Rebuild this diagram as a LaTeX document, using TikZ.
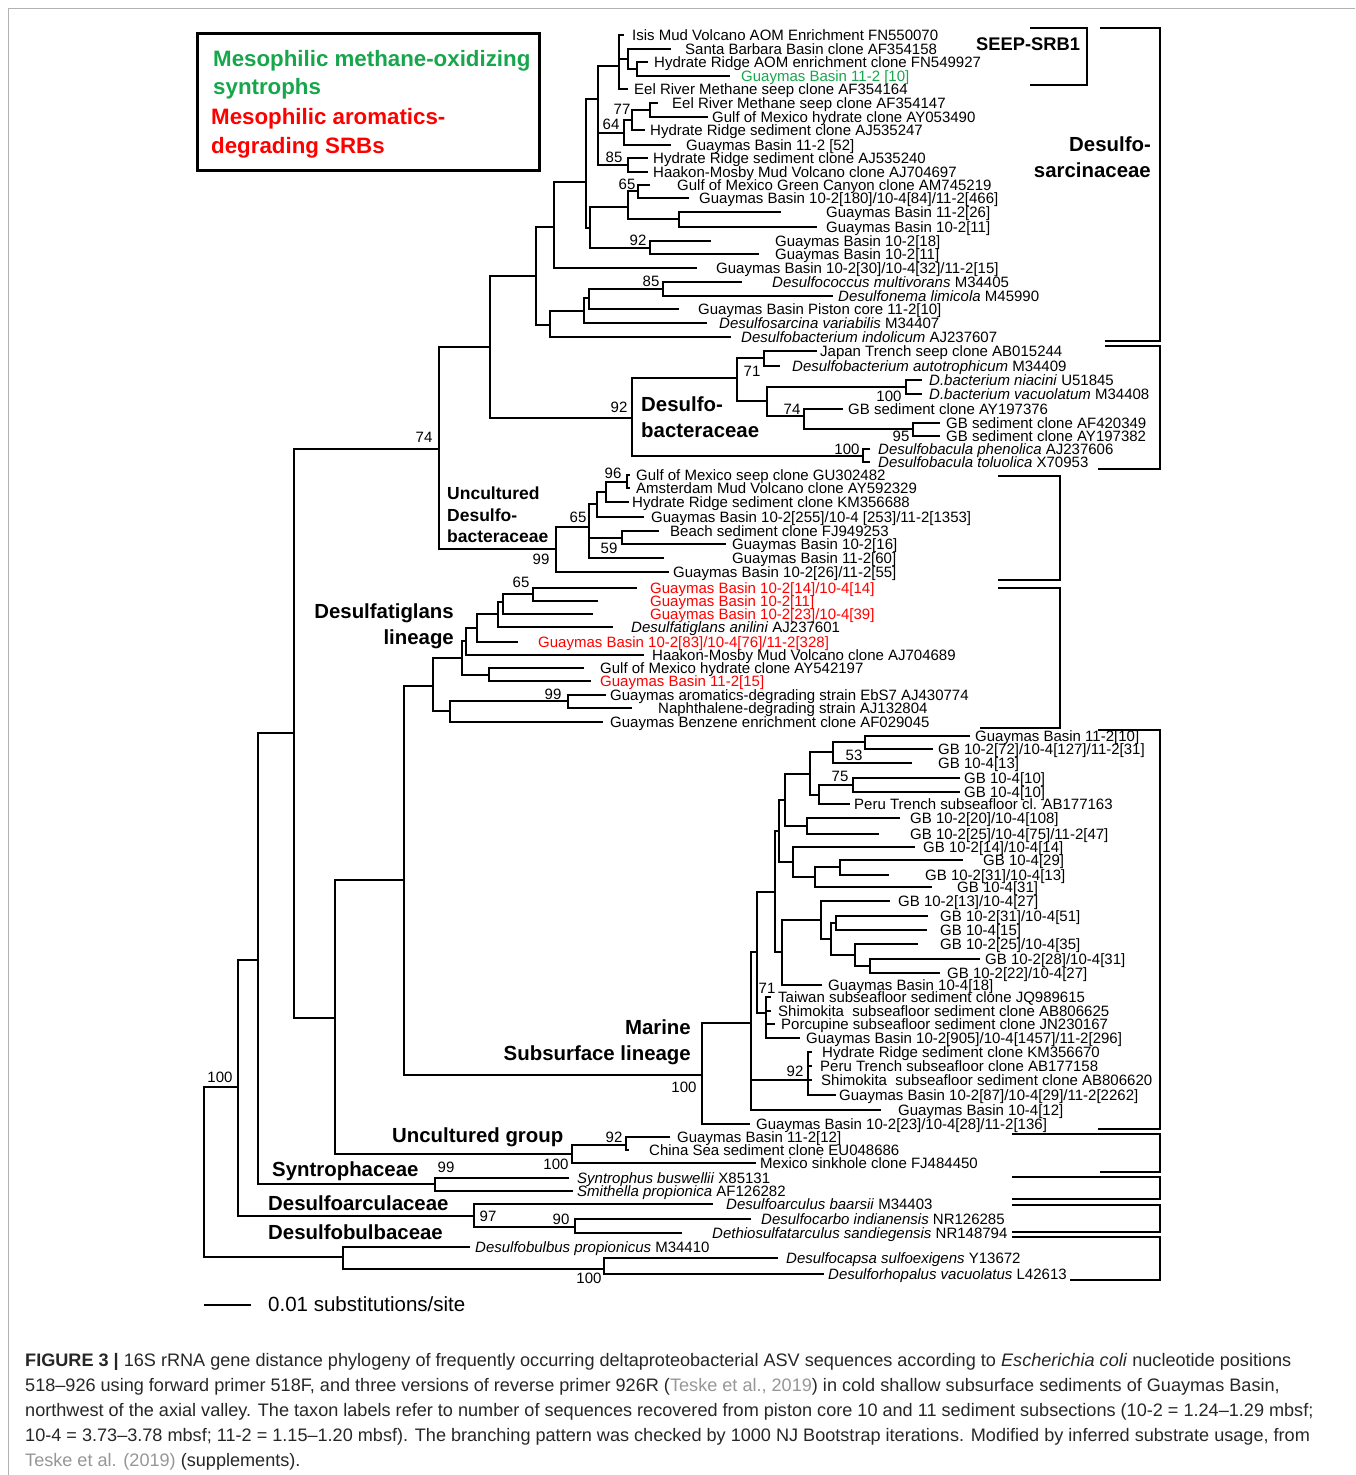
\documentclass[tikz,border=0pt]{standalone}
\usepackage{fontspec}
\setmainfont{Liberation Sans}
\definecolor{seepgreen}{RGB}{24,166,76}
\definecolor{refgray}{RGB}{150,150,150}
\newcommand\taxfont{\fontsize{15}{15}\selectfont}
% leaf: name, y, branch end, text start, label
\newcommand\leaf[5]{%
  \coordinate (#1) at (#3,#2);
  \node[taxon] (#1t) at (#4,#2) {#5};}

\begin{document}
\begin{tikzpicture}[x=1pt,y=-1pt,
  branch/.style={line width=1.6pt},
  bracket/.style={line width=1.8pt},
  taxon/.style={anchor=west,inner sep=0pt,text height=10.8pt,text depth=0pt,font=\taxfont},
  boot/.style={inner sep=0pt,font=\taxfont},
  clade/.style={inner sep=0pt,font=\bfseries\fontsize{20.4}{26}\selectfont},
  legend/.style={anchor=base west,inner sep=0pt,font=\bfseries\fontsize{22.3}{26}\selectfont},
  capline/.style={anchor=base west,inner sep=0pt,text=black!85,font=\fontsize{18.1}{20}\selectfont}]
\useasboundingbox (0,0) rectangle (1355,1475);
\draw[gray!60,line width=1pt] (8,1475) -- (8,8) -- (1355,8);

% legend
\draw[line width=3pt] (197,33) rectangle (539,170);
\node[legend,text=seepgreen] (lg1) at (213,66) {Mesophilic methane-oxidizing};
\node[legend,text=seepgreen] (lg2) at (213,94) {syntrophs};
\node[legend,text=red] (lg3) at (211,124) {Mesophilic aromatics-};
\node[legend,text=red] (lg4) at (211,153) {degrading SRBs};

% Desulfosarcinaceae
\leaf{L1}{35}{624}{632}{Isis Mud Volcano AOM Enrichment FN550070}
\leaf{L2}{49}{671}{685}{Santa Barbara Basin clone AF354158}
\leaf{L3}{62}{648}{654}{Hydrate Ridge AOM enrichment clone FN549927}
\leaf{L4}{76}{730}{741}{\color{seepgreen}Guaymas Basin 11-2 [10]}
\leaf{L5}{89}{628}{634}{Eel River Methane seep clone AF354164}
\leaf{L6}{103}{658}{672}{Eel River Methane seep clone AF354147}
\leaf{L7}{117}{708}{712}{Gulf of Mexico hydrate clone AY053490}
\leaf{L8}{130}{645}{650}{Hydrate Ridge sediment clone AJ535247}
\leaf{L9}{145}{671}{686}{Guaymas Basin 11-2 [52]}
\leaf{L10}{158}{648}{653}{Hydrate Ridge sediment clone AJ535240}
\leaf{L11}{172}{648}{653}{Haakon-Mosby Mud Volcano clone AJ704697}
\leaf{L12}{185}{650}{677}{Gulf of Mexico Green Canyon clone AM745219}
\leaf{L13}{198}{689}{699}{Guaymas Basin 10-2[180]/10-4[84]/11-2[466]}
\leaf{L14}{212}{781}{826}{Guaymas Basin 11-2[26]}
\leaf{L15}{227}{817}{826}{Guaymas Basin 10-2[11]}
\leaf{L16}{241}{711}{775}{Guaymas Basin 10-2[18]}
\leaf{L17}{254}{759}{775}{Guaymas Basin 10-2[11]}
\leaf{L18}{268}{697}{716}{Guaymas Basin 10-2[30]/10-4[32]/11-2[15]}
\leaf{L19}{282}{742}{772}{\textit{Desulfococcus multivorans} M34405}
\leaf{L20}{296}{833}{838}{\textit{Desulfonema limicola} M45990}
\leaf{L21}{309}{679}{698}{Guaymas Basin Piston core 11-2[10]}
\leaf{L22}{323}{707}{719}{\textit{Desulfosarcina variabilis} M34407}
\leaf{L23}{337}{731}{741}{\textit{Desulfobacterium indolicum} AJ237607}
\coordinate (A) at (619,66);  \coordinate (B) at (628,59);  \coordinate (C) at (637,69);
\coordinate (n77) at (650,110); \coordinate (n64) at (632,120); \coordinate (D) at (624,133);
\coordinate (n85a) at (628,165); \coordinate (N598) at (598,99);
\coordinate (n65a) at (638,191); \coordinate (E) at (679,219); \coordinate (F) at (628,207);
\coordinate (n92a) at (650,248); \coordinate (G) at (590,228); \coordinate (N586) at (586,182);
\coordinate (N554) at (554,227); \coordinate (n85b) at (663,289); \coordinate (H) at (589,298);
\coordinate (I) at (584,311); \coordinate (J) at (550,325); \coordinate (N536) at (536,276);
\foreach \p/\c in {A/L1,A/B,A/L5,B/L2,B/C,C/L3,C/L4,n77/L6,n77/L7,n64/n77,n64/L8,D/n64,D/L9,
  n85a/L10,n85a/L11,N598/A,N598/D,N598/n85a,n65a/L12,n65a/L13,E/L14,E/L15,F/n65a,F/E,
  n92a/L16,n92a/L17,G/F,G/n92a,N586/N598,N586/G,N554/N586,N554/L18,n85b/L19,n85b/L20,
  H/n85b,H/L21,I/H,I/L22,J/I,J/L23,N536/N554,N536/J}
  \draw[branch] (\p) |- (\c);

% Desulfobacteraceae
\leaf{L24}{351}{817}{820}{Japan Trench seep clone AB015244}
\leaf{L25}{366}{780}{792}{\textit{Desulfobacterium autotrophicum} M34409}
\leaf{L26}{380}{922}{929}{\textit{D.bacterium niacini} U51845}
\leaf{L27}{394}{922}{929}{\textit{D.bacterium vacuolatum} M34408}
\leaf{L28}{409}{843}{848}{GB sediment clone AY197376}
\leaf{L29}{423}{940}{946}{GB sediment clone AF420349}
\leaf{L30}{436}{940}{946}{GB sediment clone AY197382}
\leaf{L31}{449}{870}{878}{\textit{Desulfobacula phenolica} AJ237606}
\leaf{L32}{462}{870}{878}{\textit{Desulfobacula toluolica} X70953}
\coordinate (n71a) at (764,358); \coordinate (n100a) at (906,387); \coordinate (n95) at (913,429);
\coordinate (n74) at (804,416); \coordinate (M) at (767,401); \coordinate (K) at (737,378);
\coordinate (n100c) at (863,456); \coordinate (DBac) at (632,418);
\coordinate (N490) at (490,347); \coordinate (N439) at (439,449);
\foreach \p/\c in {n71a/L24,n71a/L25,K/n71a,K/M,n100a/L26,n100a/L27,n95/L29,n95/L30,
  n74/L28,n74/n95,M/n100a,M/n74,n100c/L31,n100c/L32,DBac/K,DBac/n100c,
  N490/N536,N490/DBac,N439/N490}
  \draw[branch] (\p) |- (\c);

% Uncultured Desulfobacteraceae
\leaf{L33}{475}{630}{636}{Gulf of Mexico seep clone GU302482}
\leaf{L34}{488}{630}{636}{Amsterdam Mud Volcano clone AY592329}
\leaf{L35}{502}{629}{632}{Hydrate Ridge sediment clone KM356688}
\leaf{L36}{517}{644}{651}{Guaymas Basin 10-2[255]/10-4 [253]/11-2[1353]}
\leaf{L37}{531}{659}{670}{Beach sediment clone FJ949253}
\leaf{L38}{544}{726}{732}{Guaymas Basin 10-2[16]}
\leaf{L39}{558}{664}{732}{Guaymas Basin 11-2[60]}
\leaf{L40}{572}{669}{673}{Guaymas Basin 10-2[26]/11-2[55]}
\coordinate (n96) at (627,482); \coordinate (O) at (606,492); \coordinate (P) at (597,504);
\coordinate (n59) at (622,538); \coordinate (n65b) at (589,527); \coordinate (n99a) at (556,549);
\foreach \p/\c in {n96/L33,n96/L34,O/n96,O/L35,P/O,P/L36,n59/L37,n59/L38,
  n65b/P,n65b/n59,n65b/L39,n99a/n65b,n99a/L40,N439/n99a}
  \draw[branch] (\p) |- (\c);

% Desulfatiglans lineage
\leaf{L41}{588}{637}{650}{\color{red}Guaymas Basin 10-2[14]/10-4[14]}
\leaf{L42}{601}{598}{650}{\color{red}Guaymas Basin 10-2[11]}
\leaf{L43}{614}{593}{650}{\color{red}Guaymas Basin 10-2[23]/10-4[39]}
\leaf{L44}{627}{613}{631}{\textit{Desulfatiglans anilini} AJ237601}
\leaf{L45}{642}{518}{538}{\color{red}Guaymas Basin 10-2[83]/10-4[76]/11-2[328]}
\leaf{L46}{655}{644}{652}{Haakon-Mosby Mud Volcano clone AJ704689}
\leaf{L47}{668}{584}{600}{Gulf of Mexico hydrate clone AY542197}
\leaf{L48}{681}{591}{600}{\color{red}Guaymas Basin 11-2[15]}
\leaf{L49}{695}{606}{610}{Guaymas aromatics-degrading strain EbS7 AJ430774}
\leaf{L50}{708}{632}{658}{Naphthalene-degrading strain AJ132804}
\leaf{L51}{722}{603}{610}{Guaymas Benzene enrichment clone AF029045}
\coordinate (n65c) at (533,594); \coordinate (Q) at (503,602); \coordinate (R) at (498,614);
\coordinate (S) at (477,628); \coordinate (T) at (466,641); \coordinate (U) at (489,675);
\coordinate (V) at (462,658); \coordinate (n99b) at (568,701); \coordinate (W) at (450,711);
\coordinate (X) at (433,686);
\foreach \p/\c in {n65c/L41,n65c/L42,Q/n65c,Q/L43,R/Q,R/L44,S/R,S/L45,T/S,T/L46,
  U/L47,U/L48,V/T,V/U,n99b/L49,n99b/L50,W/n99b,W/L51,X/V,X/W}
  \draw[branch] (\p) |- (\c);

% Marine Subsurface lineage
\leaf{L52}{736}{970}{975}{Guaymas Basin 11-2[10]}
\leaf{L53}{749}{933}{938}{GB 10-2[72]/10-4[127]/11-2[31]}
\leaf{L54}{763}{912}{938}{GB 10-4[13]}
\leaf{L55}{778}{960}{964}{GB 10-4[10]}
\leaf{L56}{792}{960}{964}{GB 10-4[10]}
\leaf{L57}{804}{850}{854}{Peru Trench subseafloor cl. AB177163}
\leaf{L58}{818}{900}{910}{GB 10-2[20]/10-4[108]}
\leaf{L59}{834}{879}{910}{GB 10-2[25]/10-4[75]/11-2[47]}
\leaf{L60}{847}{915}{923}{GB 10-2[14]/10-4[14]}
\leaf{L61}{860}{963}{983}{GB 10-4[29]}
\leaf{L62}{875}{889}{925}{GB 10-2[31]/10-4[13]}
\leaf{L63}{887}{932}{957}{GB 10-4[31]}
\leaf{L64}{901}{890}{898}{GB 10-2[13]/10-4[27]}
\leaf{L65}{916}{928}{940}{GB 10-2[31]/10-4[51]}
\leaf{L66}{930}{927}{940}{GB 10-4[15]}
\leaf{L67}{944}{918}{940}{GB 10-2[25]/10-4[35]}
\leaf{L68}{959}{980}{985}{GB 10-2[28]/10-4[31]}
\leaf{L69}{973}{940}{947}{GB 10-2[22]/10-4[27]}
\leaf{L70}{985}{822}{828}{Guaymas Basin 10-4[18]}
\leaf{L71}{997}{771}{778}{Taiwan subseafloor sediment clone JQ989615}
\leaf{L72}{1011}{771}{778}{Shimokita\ \ subseafloor sediment clone AB806625}
\leaf{L73}{1024}{775}{781}{Porcupine subseafloor sediment clone JN230167}
\leaf{L74}{1038}{800}{806}{Guaymas Basin 10-2[905]/10-4[1457]/11-2[296]}
\leaf{L75}{1052}{812}{822}{Hydrate Ridge sediment clone KM356670}
\leaf{L76}{1066}{812}{820}{Peru Trench subseafloor clone AB177158}
\leaf{L77}{1080}{812}{821}{Shimokita\ \ subseafloor sediment clone AB806620}
\leaf{L78}{1095}{836}{839}{Guaymas Basin 10-2[87]/10-4[29]/11-2[2262]}
\leaf{L79}{1110}{881}{898}{Guaymas Basin 10-4[12]}
\leaf{L80}{1124}{750}{756}{Guaymas Basin 10-2[23]/10-4[28]/11-2[136]}
\coordinate (m53a) at (865,742); \coordinate (m53b) at (833,752); \coordinate (m75) at (853,785);
\coordinate (md) at (819,795); \coordinate (me) at (810,774); \coordinate (mf) at (807,826);
\coordinate (mg) at (785,800); \coordinate (mh) at (840,867); \coordinate (mi) at (815,877);
\coordinate (mj) at (793,862); \coordinate (mk) at (779,831); \coordinate (mm) at (870,966);
\coordinate (mn) at (855,955); \coordinate (mo) at (836,923); \coordinate (mp) at (831,939);
\coordinate (mq) at (821,920); \coordinate (mr) at (782,952); \coordinate (ms) at (775,892);
\coordinate (mt) at (757,952); \coordinate (m71) at (766,1013); \coordinate (m92) at (808,1080);
\coordinate (mu) at (751,1023); \coordinate (MSL) at (702,1075);
\foreach \p/\c in {m53a/L52,m53a/L53,m53b/m53a,m53b/L54,m75/L55,m75/L56,md/m75,md/L57,
  me/m53b,me/md,mf/L58,mf/L59,mg/me,mg/mf,mh/L61,mh/L62,mi/mh,mi/L63,mj/L60,mj/mi,
  mk/mg,mk/mj,mm/L68,mm/L69,mn/L67,mn/mm,mo/L65,mo/L66,mp/mo,mp/mn,mq/L64,mq/mp,
  mr/mq,mr/L70,ms/mk,ms/mr,mt/ms,mt/m71,m71/L71,m71/L72,m71/L73,m71/L74,
  m92/L75,m92/L76,m92/L77,m92/L78,mu/mt,mu/m92,mu/L79,MSL/mu,MSL/L80}
  \draw[branch] (\p) |- (\c);

% uncultured group and outgroups
\leaf{L81}{1137}{670}{677}{Guaymas Basin 11-2[12]}
\leaf{L82}{1150}{629}{649}{China Sea sediment clone EU048686}
\leaf{L83}{1163}{756}{760}{Mexico sinkhole clone FJ484450}
\leaf{L84}{1178}{569}{577}{\textit{Syntrophus buswellii} X85131}
\leaf{L85}{1191}{573}{577}{\textit{Smithella propionica} AF126282}
\leaf{L86}{1204}{713}{726}{\textit{Desulfoarculus baarsii} M34403}
\leaf{L87}{1219}{751}{761}{\textit{Desulfocarbo indianensis} NR126285}
\leaf{L88}{1233}{682}{712}{\textit{Dethiosulfatarculus sandiegensis} NR148794}
\leaf{L89}{1247}{470}{475}{\textit{Desulfobulbus propionicus} M34410}
\leaf{L90}{1258}{778}{786}{\textit{Desulfocapsa sulfoexigens} Y13672}
\leaf{L91}{1274}{824}{828}{\textit{Desulforhopalus vacuolatus} L42613}
\coordinate (n92c) at (626,1145); \coordinate (UG) at (572,1154); \coordinate (SY) at (435,1184);
\coordinate (DA) at (474,1216); \coordinate (n90) at (575,1227); \coordinate (DB) at (343,1257);
\coordinate (n100d) at (604,1269);
\coordinate (N404) at (404,880); \coordinate (N335) at (335,1018); \coordinate (N294) at (294,733);
\coordinate (N258) at (258,960); \coordinate (N238) at (238,1087); \coordinate (N204) at (204,1172);
\foreach \p/\c in {n92c/L81,n92c/L82,UG/n92c,UG/L83,SY/L84,SY/L85,DA/L86,DA/n90,
  n90/L87,n90/L88,DB/L89,DB/n100d,n100d/L90,n100d/L91,
  N404/X,N404/MSL,N335/N404,N335/UG,N294/N439,N294/N335,N258/N294,N258/SY,
  N238/N258,N238/DA,N204/N238,N204/DB}
  \draw[branch] (\p) |- (\c);

% bootstrap values
\foreach \bx/\by/\bv in {622/109/77,611/124/64,614/157/85,627/184/65,638/240/92,651/281/85,
  619/407/92,752/371/71,889/396/100,792/409/74,901/436/95,847/449/100,424/437/74,
  613/473/96,578/517/65,609/548/59,541/559/99,521/582/65,553/694/99,854/755/53,
  840/776/75,767/988/71,795/1071/92,684/1087/100,220/1077/100,614/1137/92,
  556/1164/100,446/1167/99,488/1216/97,561/1219/90,589/1278/100}
  \node[boot] (bs\bx-\by) at (\bx,\by) {\bv};

% clade names
\node[clade,anchor=west,font=\bfseries\fontsize{18.3}{20}\selectfont] (seep) at (976,44) {SEEP-SRB1};
\node[clade,align=right,anchor=east] (dsarc) at (1151,157) {Desulfo-\\sarcinaceae};
\node[clade,align=left,anchor=west] (dbac) at (641,417) {Desulfo-\\bacteraceae};
\node[clade,align=left,anchor=west,font=\bfseries\fontsize{17.5}{21.5}\selectfont] (udbac) at (447,515) {Uncultured\\Desulfo-\\bacteraceae};
\node[clade,align=right,anchor=east] (dtig) at (454,626) {Desulfatiglans\\lineage};
\node[clade,align=right,anchor=east] (msub) at (691,1042) {Marine\\Subsurface lineage};
\node[clade,anchor=west] (ugrp) at (392,1137) {Uncultured group};
\node[clade,anchor=west] (synt) at (272,1171) {Syntrophaceae};
\node[clade,anchor=west] (darc) at (268,1203) {Desulfoarculaceae};
\node[clade,anchor=west] (dbulb) at (268,1232) {Desulfobulbaceae};

% brackets
\draw[bracket] (1030,28) -| (1087,85) -- (1030,85);
\draw[bracket] (1100,28) -| (1160,341) -- (1105,341);
\draw[bracket] (1105,346) -| (1160,469) -- (1098,469);
\draw[bracket] (998,476) -| (1060,580) -- (998,580);
\draw[bracket] (998,588) -| (1060,728) -- (980,728);
\draw[bracket] (1098,730) -| (1160,1129) -- (1098,1129);
\draw[bracket] (1012,1134) -| (1160,1172) -- (1100,1172);
\draw[bracket] (1012,1177) -| (1160,1199) -- (1012,1199);
\draw[bracket] (1012,1205) -| (1160,1232) -- (1012,1232);
\draw[bracket] (1012,1237) -| (1160,1280) -- (1070,1280);

% scale bar
\coordinate (sb1) at (204,1305); \coordinate (sb2) at (251,1305);
\draw[line width=2pt] (sb1) -- (sb2);
\node[anchor=west,inner sep=0pt,font=\fontsize{20.5}{22}\selectfont] (sbl) at (268,1304) {0.01 substitutions/site};

% caption
\node[capline] (cap1) at (25,1366) {\textbf{FIGURE 3 |} 16S rRNA gene distance phylogeny of frequently occurring deltaproteobacterial ASV sequences according to \textit{Escherichia coli} nucleotide positions};
\node[capline] (cap2) at (25,1391) {518--926 using forward primer 518F, and three versions of reverse primer 926R ({\color{refgray}Teske et al., 2019}) in cold shallow subsurface sediments of Guaymas Basin,};
\node[capline] (cap3) at (25,1416) {northwest of the axial valley. The taxon labels refer to number of sequences recovered from piston core 10 and 11 sediment subsections (10-2 = 1.24--1.29 mbsf;};
\node[capline] (cap4) at (25,1441) {10-4 = 3.73--3.78 mbsf; 11-2 = 1.15--1.20 mbsf). The branching pattern was checked by 1000 NJ Bootstrap iterations. Modified by inferred substrate usage, from};
\node[capline] (cap5) at (25,1466) {{\color{refgray}Teske et al. (2019)} (supplements).};
\end{tikzpicture}
\end{document}
